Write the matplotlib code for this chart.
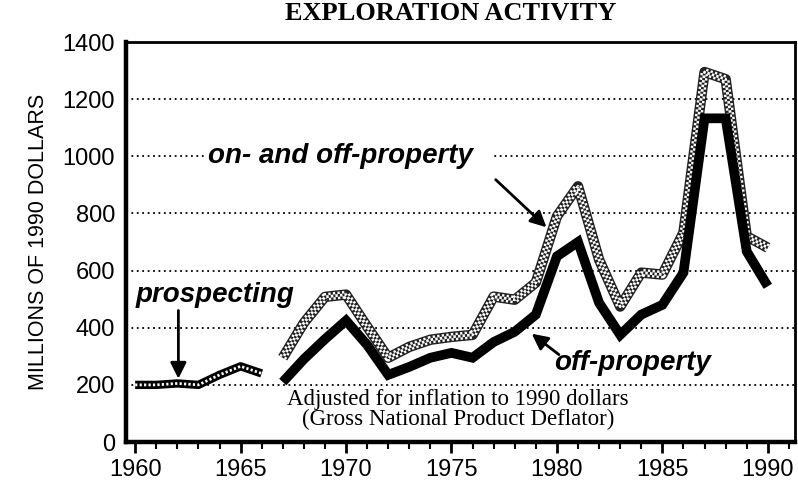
import numpy as np
import matplotlib
matplotlib.use('Agg')
import matplotlib.pyplot as plt
import matplotlib.ticker as ticker

# values (millions of 1990 dollars)
years_prosp = [1960, 1961, 1962, 1963, 1964, 1965, 1966]
prospecting = [200, 200, 205, 200, 235, 265, 240]

years = list(range(1967, 1991))
on_off_property = [295, 417, 508, 516, 404, 295, 333, 358, 368, 375, 509, 498,
                   558, 790, 895, 638, 474, 593, 586, 733, 1295, 1270, 720, 680]
off_property = [210, 290, 360, 425, 340, 235, 263, 295, 312, 295, 350, 386,
                446, 650, 700, 487, 375, 446, 480, 593, 1133, 1133, 667, 545]

grid_levels = [200, 400, 600, 800, 1000, 1200]

sans = ['Liberation Sans', 'DejaVu Sans']
serif = ['Liberation Serif', 'DejaVu Serif']

fig = plt.figure(figsize=(7.98, 4.86), dpi=100)
ax = fig.add_axes([0.158, 0.0905, 0.838, 0.823])

ax.set_xlim(1959.57, 1991.28)
ax.set_ylim(0, 1400)

# dotted grid lines
for g in grid_levels:
    ax.axhline(g, color='black', lw=1.3, ls=(0, (1, 2)), zorder=1)

# on- and off-property: checkered band (black base, white checks)
ax.plot(years, on_off_property, color='#222222', lw=7.5, solid_joinstyle='round',
        solid_capstyle='butt', zorder=3)
ax.plot(years, on_off_property, color='white', lw=5.5, ls=(0, (0.3, 0.3)),
        dash_joinstyle='round', zorder=4)
ax.plot(years, on_off_property, color='#222222', lw=2, ls=(0, (0.825, 0.825)),
        zorder=4.1)
ax.plot(years, on_off_property, color='white', lw=2, ls=(0.825, (0.825, 0.825)),
        zorder=4.2)

# off-property: thick black
ax.plot(years, off_property, color='black', lw=7, solid_joinstyle='miter',
        solid_capstyle='butt', zorder=5)

# prospecting: hatched line
ax.plot(years_prosp, prospecting, color='black', lw=6, solid_capstyle='butt',
        zorder=3)
ax.plot(years_prosp, prospecting, color='white', lw=2, ls=(0, (0.8, 0.8)),
        zorder=4)

# labels and arrows
arrow_kw = dict(arrowstyle='-|>', color='black', lw=2, mutation_scale=24)

ax.text(1963.45, 1000, 'on- and off-property\u00a0\u00a0', fontsize=20,
        fontweight='bold', style='italic', family=sans, va='center', ha='left',
        zorder=6, bbox=dict(facecolor='white', edgecolor='none', pad=3))
ax.annotate('', xy=(1979.6, 745), xytext=(1977.0, 925),
            arrowprops=arrow_kw, zorder=6)

ax.text(1960.0, 515, 'prospecting', fontsize=20, fontweight='bold',
        style='italic', family=sans, va='center', ha='left', zorder=6)
ax.annotate('', xy=(1962.05, 212), xytext=(1962.05, 470),
            arrowprops=arrow_kw, zorder=6)

ax.text(1983.6, 278, 'off-property', fontsize=20, fontweight='bold',
        style='italic', family=sans, va='center', ha='center', zorder=6)
ax.annotate('', xy=(1978.7, 385), xytext=(1980.2, 300),
            arrowprops=arrow_kw, zorder=6)

ax.text(1975.3, 114, 'Adjusted for inflation to 1990 dollars\n(Gross National Product Deflator)',
        fontsize=16.5, family=serif, ha='center', va='center', linespacing=0.95,
        zorder=6)

# axes styling
for side in ['left', 'bottom']:
    ax.spines[side].set_linewidth(3.2)
for side in ['top', 'right']:
    ax.spines[side].set_linewidth(2.0)

ax.xaxis.set_major_locator(ticker.MultipleLocator(5))
ax.xaxis.set_minor_locator(ticker.MultipleLocator(1))
ax.yaxis.set_major_locator(ticker.MultipleLocator(200))
ax.tick_params(axis='x', which='major', direction='out', length=8, width=2,
               pad=4, labelsize=17)
ax.tick_params(axis='x', which='minor', direction='out', length=5, width=1.5)
ax.tick_params(axis='y', which='major', length=0, pad=8, labelsize=17)
for lab in ax.get_xticklabels() + ax.get_yticklabels():
    lab.set_family(sans)

ax.set_ylabel('MILLIONS OF 1990 DOLLARS', fontsize=15.5, family=sans, labelpad=10)

fig.text(0.565, 1 - 20 / 486, 'EXPLORATION ACTIVITY', fontsize=19,
         fontweight='bold', family=serif, ha='center', va='baseline')

plt.savefig('out.png', dpi=100)
